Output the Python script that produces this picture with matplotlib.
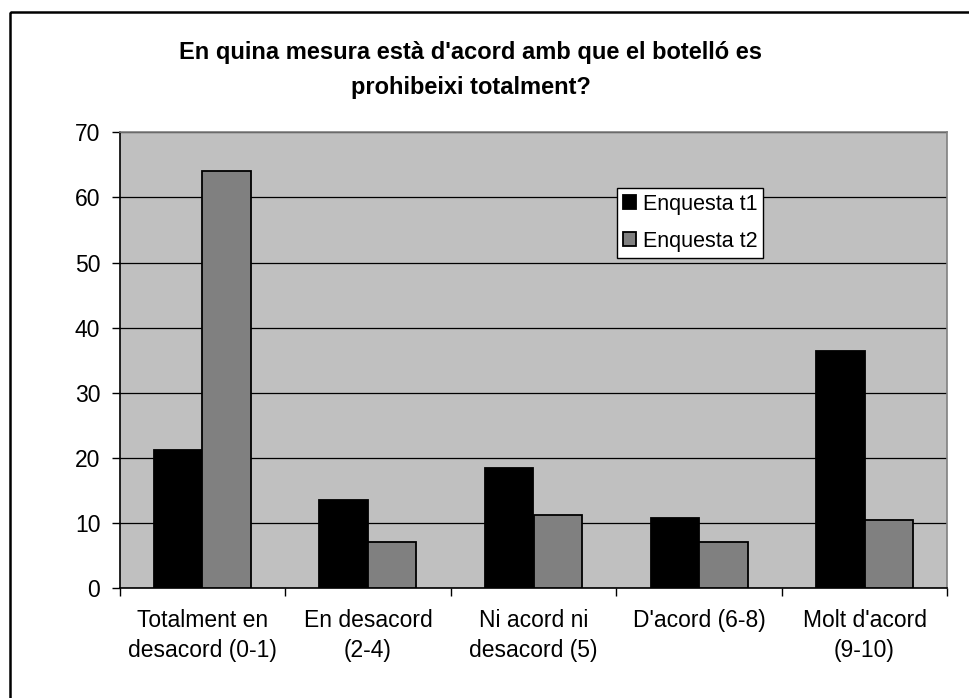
import matplotlib.pyplot as plt
import numpy as np
from matplotlib.patches import Rectangle

plt.rcParams['font.family'] = ['Liberation Sans', 'DejaVu Sans']

categories = ["Totalment en\ndesacord (0-1)", "En desacord\n(2-4)", "Ni acord ni\ndesacord (5)",
              "D'acord (6-8)", "Molt d'acord\n(9-10)"]
enquesta_t1 = [21.2, 13.5, 18.4, 10.8, 36.5]
enquesta_t2 = [64.1, 7.1, 11.2, 7.1, 10.5]
series_names = ["Enquesta t1", "Enquesta t2"]
title = "En quina mesura està d'acord amb que el botelló es\nprohibeixi totalment?"

W, H = 969, 698
fig = plt.figure(figsize=(W / 100, H / 100), dpi=100)

# outer chart border (only top/left visible in the reference)
fig.patches.append(Rectangle((10 / W, 1 - 12 / H), 1.2, -1.2, transform=fig.transFigure,
                             fill=False, edgecolor='black', linewidth=1.8, clip_on=False))

ax = fig.add_axes([119.7 / W, 1 - 588.3 / H, (947.3 - 119.7) / W, (588.3 - 132.3) / H])
ax.set_facecolor('#c0c0c0')

x = np.arange(len(categories))
bw = 0.293
ax.bar(x - bw / 2, enquesta_t1, bw, color='black', edgecolor='black', linewidth=1.3,
       label=series_names[0], zorder=3)
ax.bar(x + bw / 2, enquesta_t2, bw, color='#808080', edgecolor='black', linewidth=1.3,
       label=series_names[1], zorder=3)

ax.set_xlim(-0.5, len(categories) - 0.5)
ax.set_ylim(0, 70)
ax.set_yticks(range(0, 71, 10))
ax.yaxis.grid(True, color='black', linewidth=0.9, zorder=1)
ax.set_axisbelow(True)

ax.set_xticks(x)
ax.set_xticklabels(categories, fontsize=16.5, linespacing=1.38)
ax.set_xticks(np.arange(-0.5, len(categories), 1), minor=True)
ax.tick_params(axis='x', which='major', length=0, pad=15)
ax.tick_params(axis='x', which='minor', length=6, width=1, color='black')
ax.tick_params(axis='y', length=6, width=1, labelsize=16.5, pad=8)

for s in ['top', 'right']:
    ax.spines[s].set_color('#808080')
    ax.spines[s].set_linewidth(1.2)
for s in ['left', 'bottom']:
    ax.spines[s].set_color('black')
    ax.spines[s].set_linewidth(1.2)

leg = ax.legend(loc='upper left', bbox_to_anchor=((617.3 - 119.7) / (947.3 - 119.7),
                                                  (588.3 - 187.7) / (588.3 - 132.3)),
                frameon=True, fancybox=False, fontsize=15.5, handlelength=0.6,
                handleheight=0.6, handletextpad=0.3, borderpad=0.28, labelspacing=0.74,
                borderaxespad=0)
leg.get_frame().set_edgecolor('black')
leg.get_frame().set_linewidth(1.0)
leg.get_frame().set_facecolor('white')
leg.get_frame().set_alpha(1)

fig.text(470.5 / W, 1 - 70 / H, title, ha='center', va='center', fontsize=17,
         fontweight='bold', linespacing=1.7)

fig.savefig('out.png', dpi=100)
